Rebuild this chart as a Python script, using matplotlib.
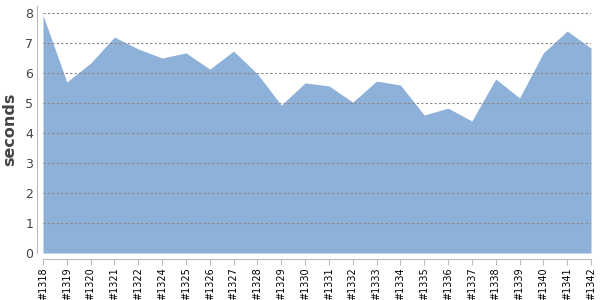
import matplotlib.pyplot as plt

builds = ['#1318', '#1319', '#1320', '#1321', '#1322', '#1324', '#1325', '#1326',
          '#1327', '#1328', '#1329', '#1330', '#1331', '#1332', '#1333', '#1334',
          '#1335', '#1336', '#1337', '#1338', '#1339', '#1340', '#1341', '#1342']
seconds = [7.93, 5.70, 6.33, 7.20, 6.80, 6.50, 6.67, 6.13,
           6.73, 5.97, 4.93, 5.67, 5.57, 5.03, 5.73, 5.60,
           4.60, 4.83, 4.40, 5.80, 5.17, 6.67, 7.40, 6.83]

fig = plt.figure(figsize=(6, 3), dpi=100)
ax = fig.add_axes([43 / 600, 1 - 253 / 300, 548 / 600, 247.5 / 300])

# spines first: set_position resets the tick labels
for s in ['top', 'right']:
    ax.spines[s].set_visible(False)
ax.spines['left'].set_position(('outward', 4))
ax.spines['bottom'].set_position(('outward', 4))
ax.spines['left'].set_color('#bbbbbb')
ax.spines['bottom'].set_color('#bbbbbb')

x = list(range(len(builds)))
ax.fill_between(x, seconds, 0, color='#8eb1d9', linewidth=0, zorder=1)

ax.set_xlim(0, len(builds) - 1)
ax.set_ylim(0, 8.25)
ax.set_yticks(range(0, 9))
ax.set_xticks(x)
ax.set_xticklabels(builds, rotation=90, fontsize=7, color='black')

# grid dashed, drawn over the area
ax.yaxis.grid(True, linestyle=(0, (2, 2)), color='#888888', linewidth=0.8, zorder=2)
ax.set_axisbelow(False)

ax.tick_params(axis='y', length=0, labelsize=9, labelcolor='#444444', pad=3)
ax.tick_params(axis='x', length=4, color='#bbbbbb', pad=2)

ax.set_ylabel('seconds', fontsize=11.5, color='#444444', fontweight='bold', labelpad=6)

plt.savefig('out.png', dpi=100)
